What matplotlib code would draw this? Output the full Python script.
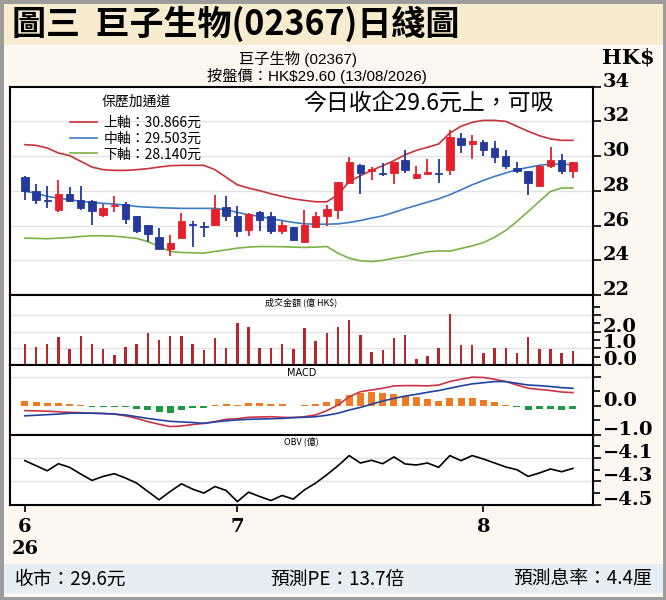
import matplotlib
matplotlib.use('Agg')
import matplotlib.pyplot as plt
from matplotlib.patches import Rectangle
import numpy as np

plt.rcParams['font.family'] = ['Noto Sans CJK TC', 'DejaVu Sans']
plt.rcParams['axes.unicode_minus'] = True

# ---- data ----
opens = [28.80, 28.01, 27.47, 26.91, 27.81, 27.45, 27.43, 26.62, 27.10, 27.26,
         26.53, 26.01, 25.33, 24.66, 25.31, 26.10, 25.93, 26.04, 27.06, 26.56,
         25.76, 26.81, 26.53, 25.66, 25.91, 25.04, 25.91, 26.53, 26.91, 28.45,
         29.51, 29.13, 29.00, 29.03, 29.76, 28.72, 28.95, 29.00, 29.22, 31.04,
         30.72, 30.80, 30.47, 30.03, 29.31, 29.12, 28.29, 29.45, 29.80, 29.12]
highs = [28.85, 28.41, 28.26, 28.64, 28.22, 28.29, 27.45, 27.26, 27.68, 27.33,
         26.55, 26.03, 25.85, 25.47, 26.72, 26.24, 26.18, 27.78, 27.72, 27.10,
         26.70, 26.83, 26.81, 26.24, 25.93, 26.91, 26.81, 27.20, 28.50, 29.95,
         29.55, 29.37, 29.60, 29.66, 30.33, 29.45, 29.83, 29.83, 31.49, 31.33,
         31.24, 30.95, 30.85, 30.33, 29.64, 29.14, 29.47, 30.53, 30.14, 29.64]
lows = [27.49, 27.26, 27.04, 26.76, 27.35, 26.87, 26.01, 26.49, 26.76, 26.10,
        25.56, 25.03, 24.64, 24.22, 25.29, 24.76, 25.33, 26.00, 26.29, 25.37,
        25.41, 25.66, 25.53, 25.53, 25.14, 25.00, 25.88, 25.95, 26.37, 28.40,
        27.83, 28.64, 28.83, 28.41, 29.03, 28.70, 28.95, 28.45, 28.93, 30.18,
        29.83, 30.03, 29.60, 29.26, 29.03, 27.78, 28.27, 29.31, 28.99, 28.74]
closes = [27.97, 27.45, 27.43, 27.81, 27.39, 27.01, 26.85, 27.04, 27.20, 26.37,
          25.66, 25.53, 24.66, 24.99, 26.24, 26.05, 25.90, 26.97, 26.53, 25.66,
          26.68, 26.33, 25.66, 26.01, 25.18, 26.04, 26.56, 26.95, 28.49, 29.66,
          29.03, 29.23, 28.95, 29.64, 29.18, 28.95, 29.10, 28.95, 31.10, 30.66,
          30.85, 30.33, 29.95, 29.45, 29.12, 28.45, 29.45, 29.80, 29.12, 29.64]

upper = [30.66, 30.62, 30.47, 30.18, 30.03, 29.70, 29.37, 29.22, 29.18, 29.18,
         29.22, 29.28, 29.37, 29.45, 29.47, 29.47, 29.47, 29.22, 28.78, 28.35,
         28.16, 28.01, 27.83, 27.68, 27.54, 27.45, 27.37, 27.37, 27.78, 28.54,
         28.87, 29.18, 29.45, 29.74, 30.08, 30.33, 30.51, 30.70, 31.33, 31.72,
         31.95, 32.06, 32.06, 32.00, 31.72, 31.43, 31.18, 30.99, 30.91, 30.91]
middle = [27.97, 27.87, 27.68, 27.58, 27.49, 27.39, 27.33, 27.28, 27.24, 27.18,
          27.10, 27.06, 27.03, 27.01, 26.99, 26.99, 26.99, 26.99, 26.91, 26.76,
          26.62, 26.53, 26.39, 26.29, 26.18, 26.10, 26.08, 26.08, 26.10, 26.18,
          26.29, 26.43, 26.56, 26.76, 26.97, 27.16, 27.35, 27.54, 27.78, 28.06,
          28.35, 28.60, 28.83, 29.03, 29.22, 29.35, 29.47, 29.54, 29.54, 29.50]
lower = [25.28, 25.26, 25.24, 25.28, 25.31, 25.37, 25.41, 25.41, 25.39, 25.33,
         25.26, 25.08, 24.79, 24.51, 24.45, 24.43, 24.41, 24.51, 24.60, 24.70,
         24.76, 24.79, 24.79, 24.78, 24.76, 24.74, 24.76, 24.79, 24.41, 24.12,
         23.97, 23.93, 23.99, 24.12, 24.22, 24.37, 24.49, 24.54, 24.53, 24.68,
         24.83, 25.02, 25.33, 25.72, 26.24, 26.81, 27.39, 27.97, 28.16, 28.16]
band_labels = ['上軸：30.866元', '中軸：29.503元', '下軸：28.140元']

volume = [1.24, 1.10, 1.26, 1.70, 0.94, 1.74, 1.24, 0.96, 0.60, 1.06,
          1.26, 1.94, 1.50, 1.76, 1.74, 1.26, 0.90, 1.60, 1.00, 2.54,
          2.26, 1.04, 1.00, 1.24, 0.94, 2.20, 1.44, 1.90, 2.26, 2.70,
          1.80, 0.80, 0.90, 1.60, 1.80, 0.34, 0.54, 1.04, 3.04, 1.20,
          1.20, 0.74, 1.04, 1.04, 0.70, 1.70, 0.94, 0.98, 0.70, 0.86]

macd_hist = [0.17, 0.13, 0.09, 0.09, 0.06, 0.02, -0.02, -0.02, -0.02, -0.05,
             -0.11, -0.14, -0.22, -0.23, -0.14, -0.08, -0.06, 0.02, 0.07, 0.03,
             0.09, 0.10, 0.06, 0.06, 0.01, 0.02, 0.07, 0.14, 0.23, 0.39,
             0.44, 0.49, 0.44, 0.41, 0.34, 0.30, 0.23, 0.17, 0.26, 0.26,
             0.26, 0.21, 0.13, 0.03, -0.02, -0.14, -0.11, -0.11, -0.14, -0.11]
dif = [-0.16, -0.17, -0.18, -0.20, -0.22, -0.23, -0.25, -0.26, -0.28, -0.34,
       -0.43, -0.54, -0.63, -0.71, -0.69, -0.64, -0.60, -0.54, -0.46, -0.44,
       -0.39, -0.38, -0.37, -0.39, -0.40, -0.37, -0.31, -0.16, 0.03, 0.32,
       0.49, 0.55, 0.61, 0.69, 0.70, 0.70, 0.69, 0.72, 0.84, 0.92,
       0.99, 0.98, 0.92, 0.84, 0.72, 0.61, 0.57, 0.53, 0.48, 0.46]
dea = [-0.34, -0.32, -0.30, -0.28, -0.25, -0.25, -0.25, -0.26, -0.28, -0.31,
       -0.37, -0.43, -0.48, -0.53, -0.55, -0.57, -0.60, -0.55, -0.51, -0.48,
       -0.46, -0.45, -0.44, -0.43, -0.40, -0.39, -0.37, -0.32, -0.25, -0.14,
       -0.05, 0.06, 0.17, 0.26, 0.34, 0.40, 0.47, 0.53, 0.61, 0.69,
       0.76, 0.80, 0.84, 0.84, 0.78, 0.72, 0.70, 0.67, 0.63, 0.61]

obv = [-4.123, -4.166, -4.209, -4.149, -4.180, -4.237, -4.291, -4.257, -4.234, -4.271,
       -4.314, -4.385, -4.456, -4.385, -4.320, -4.365, -4.399, -4.343, -4.377, -4.471,
       -4.391, -4.428, -4.462, -4.419, -4.450, -4.371, -4.314, -4.243, -4.166, -4.080,
       -4.143, -4.120, -4.149, -4.091, -4.151, -4.160, -4.143, -4.180, -4.080, -4.123,
       -4.080, -4.109, -4.143, -4.177, -4.200, -4.257, -4.228, -4.194, -4.217, -4.189]

date_ticks = [0, 19, 41]
date_labels = ['6\n26', '7', '8']

# ---- colours ----
RED = '#e4202b'
BLUE = '#24399a'
GRID = '#e2e2e2'
SERIF = 'DejaVu Serif'


def style_right_axis(ax, ticks, labels, minor=None, grid=()):
    ax.yaxis.tick_right()
    ax.set_yticks(ticks, labels=labels)
    if minor is not None:
        ax.set_yticks(minor, minor=True)
    ax.tick_params(axis='y', which='both', direction='out', length=6, width=1.2,
                   pad=1, labelsize=14)
    ax.tick_params(axis='y', which='minor', length=5)
    for lab in ax.get_yticklabels():
        lab.set_fontfamily(SERIF)
        lab.set_fontweight('bold')
        lab.set_va('baseline')
    for g in grid:
        ax.axhline(g, color=GRID, lw=1, zorder=0)
    for sp in ax.spines.values():
        sp.set_linewidth(1.5)
        sp.set_color('black')
    ax.set_facecolor('white')


def main():
    xs = np.arange(len(closes))
    o = np.array(opens)
    c = np.array(closes)

    fig = plt.figure(figsize=(6.66, 6.0), dpi=100, facecolor='#fdf7f1')

    # title band, footer band, outer frame
    fig.patches.append(Rectangle((0, 1 - 45 / 600), 1, 45 / 600, transform=fig.transFigure,
                                 facecolor='#f8ecd0', edgecolor='none', zorder=0))
    fig.patches.append(Rectangle((0, 7 / 600), 1, 29 / 600, transform=fig.transFigure,
                                 facecolor='#e6edf3', edgecolor='none', zorder=0))
    fig.patches.append(Rectangle((0, 0), 1, 1, transform=fig.transFigure, fill=False,
                                 edgecolor='#9c9c9c', lw=5, zorder=5))

    fig.text(12 / 666, 1 - 24 / 600, '圖三  巨子生物(02367)日綫圖', fontsize=24.5,
             fontweight='bold', va='center', ha='left')
    sub_font = ['Liberation Sans', 'Noto Sans CJK TC']
    fig.text(298 / 666, 1 - 59 / 600, '巨子生物 (02367)', fontsize=11,
             ha='center', va='center', family=sub_font)
    fig.text(317 / 666, 1 - 76 / 600, '按盤價：HK$29.60 (13/08/2026)', fontsize=11,
             ha='center', va='center', family=sub_font)
    fig.text(602 / 666, 1 - 58 / 600, 'HK$', fontsize=15, fontweight='bold',
             family=SERIF, ha='left', va='center')

    fig.text(15 / 666, 1 - 579 / 600, '收市：29.6元', fontsize=13.5, ha='left', va='center')
    fig.text(337 / 666, 1 - 579 / 600, '預測PE：13.7倍', fontsize=13.5, ha='center', va='center')
    fig.text(652 / 666, 1 - 579 / 600, '預測息率：4.4厘', fontsize=13.5, ha='right', va='center')

    L, W = 10 / 666, 583 / 666
    ax1 = fig.add_axes([L, 1 - 295 / 600, W, 208.3 / 600])
    ax2 = fig.add_axes([L, 1 - 365 / 600, W, 70 / 600], sharex=ax1)
    ax3 = fig.add_axes([L, 1 - 435 / 600, W, 70 / 600], sharex=ax1)
    ax4 = fig.add_axes([L, 1 - 505 / 600, W, 70 / 600], sharex=ax1)

    # price panel
    up = c >= o
    cols = np.where(up, RED, BLUE)
    ax1.vlines(xs, lows, highs, colors=cols, lw=1.3, zorder=3)
    body = np.maximum(np.abs(c - o), 0.06)
    ax1.bar(xs, body, bottom=np.minimum(o, c), width=0.66, color=cols,
            edgecolor=cols, lw=0.6, zorder=4)
    ax1.plot(xs, upper, color='#c8323a', lw=1.2, label=band_labels[0], zorder=2)
    ax1.plot(xs, middle, color='#3b7dc4', lw=1.2, label=band_labels[1], zorder=2)
    ax1.plot(xs, lower, color='#7bb246', lw=1.2, label=band_labels[2], zorder=2)
    ax1.set_ylim(22, 34)
    style_right_axis(ax1, [22, 24, 26, 28, 30, 32, 34],
                     ['22', '24', '26', '28', '30', '32', '34'],
                     grid=[24, 26, 28, 30, 32])
    leg = ax1.legend(title='保歷加通道', loc='upper left', bbox_to_anchor=(0.082, 1.02),
                     frameon=False, fontsize=10, title_fontsize=10, handlelength=1.9,
                     labelspacing=0.12, handletextpad=0.5)
    leg._legend_box.sep = 5
    ax1.text(0.503, 0.922, '今日收企29.6元上，可吸', transform=ax1.transAxes,
             fontsize=16.5, ha='left', va='center')

    # turnover panel
    ax2.bar(xs, volume, width=0.22, color='#b8262d', zorder=3)
    ax2.set_ylim(0, 4.2)
    style_right_axis(ax2, [0, 1, 2, 3], ['0.0', '1.0', '2.0', ''],
                     minor=[0.5, 1.5, 2.5, 3.5], grid=[1, 2, 3])
    ax2.text(0.5, 0.97, '成交金額 (億 HK$)', transform=ax2.transAxes,
             fontsize=6.5, ha='center', va='top')

    # MACD panel
    hist = np.array(macd_hist)
    ax3.bar(xs, hist, width=0.62, color=np.where(hist >= 0, '#f07a22', '#1f9a40'), zorder=2)
    ax3.plot(xs, dif, color='#cc3344', lw=1.2, zorder=3)
    ax3.plot(xs, dea, color='#2043a0', lw=1.2, zorder=3)
    ax3.set_ylim(-1.0, 1.41)
    style_right_axis(ax3, [-1.0, 0.0, 1.0], ['\u22121.0', '0.0', ''],
                     minor=[-0.5, 0.5], grid=[1.0])
    ax3.text(0.5, 0.96, 'MACD', transform=ax3.transAxes, fontsize=7,
             ha='center', va='top', family='DejaVu Sans')

    # OBV panel
    ax4.plot(xs, obv, color='black', lw=1.2, zorder=3)
    ax4.set_ylim(-4.5, -3.905)
    style_right_axis(ax4, [-4.5, -4.3, -4.1], ['\u22124.5', '\u22124.3', '\u22124.1'],
                     minor=[-4.4, -4.2, -4.0], grid=[-4.3, -4.1])
    ax4.text(0.5, 0.96, 'OBV (億)', transform=ax4.transAxes, fontsize=6.5,
             ha='center', va='top')

    ax1.set_xlim(-1.33, 50.8)
    for ax in (ax1, ax2, ax3):
        ax.tick_params(axis='x', bottom=False, labelbottom=False)
    ax4.set_xticks(date_ticks, labels=date_labels)
    ax4.tick_params(axis='x', direction='out', length=5, width=1.2, pad=4, labelsize=14)
    for lab in ax4.get_xticklabels():
        lab.set_fontfamily(SERIF)
        lab.set_fontweight('bold')
        lab.set_linespacing(1.35)

    fig.savefig('out.png', dpi=100, facecolor=fig.get_facecolor())


if __name__ == "__main__":
    main()
